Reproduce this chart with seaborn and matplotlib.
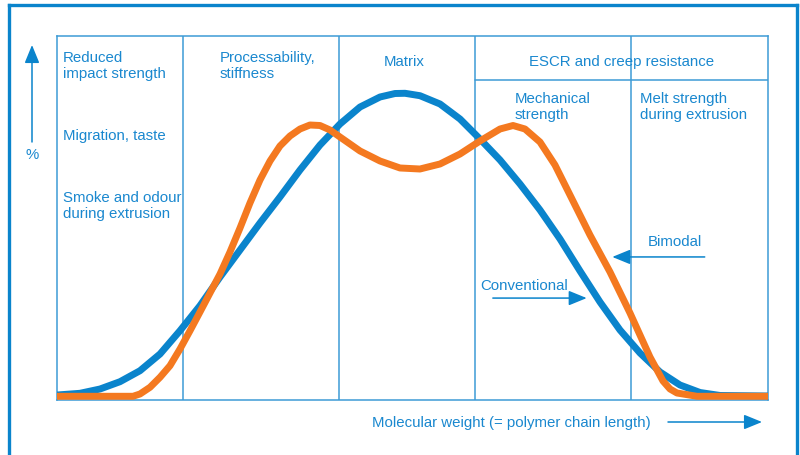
import pandas as pd
import seaborn as sns
import matplotlib.pyplot as plt
from matplotlib.lines import Line2D

# molecular weight axis runs 0..100 (arbitrary), amount in % of plot height
conv_x = [0, 3.23, 6.05, 8.86, 11.67, 14.49, 17.30, 20.11, 22.93, 25.74, 28.55, 31.36,
          34.18, 36.99, 39.80, 42.62, 45.43, 47.54, 48.95, 51.05, 53.87, 56.68, 59.49,
          62.31, 65.12, 67.93, 70.75, 73.56, 76.37, 79.18, 82.00, 84.81, 87.62, 90.44,
          93.25, 100]
conv_y = [1.37, 1.84, 3.02, 5.03, 8.04, 12.64, 19.04, 25.91, 33.79, 41.21, 48.63, 55.77,
          63.19, 70.05, 75.82, 80.49, 83.24, 84.20, 84.26, 83.60, 81.32, 77.20, 71.70,
          65.93, 59.34, 52.20, 44.23, 35.44, 26.92, 19.23, 12.91, 7.69, 4.12, 2.06,
          1.24, 1.10]
bimo_x = [0, 10.69, 11.67, 13.08, 14.49, 15.89, 17.30, 18.71, 20.11, 21.52, 22.93, 24.33,
          25.74, 27.14, 28.55, 29.96, 31.36, 32.77, 34.18, 35.58, 36.99, 38.40, 39.80,
          42.62, 45.43, 48.24, 51.05, 53.87, 56.68, 59.49, 62.31, 64.14, 65.82, 67.93,
          70.04, 72.15, 74.96, 77.78, 80.59, 83.40, 85.23, 86.22, 87.20, 90.01, 100]
bimo_y = [1.02, 1.02, 1.65, 3.49, 6.24, 9.42, 14.01, 19.04, 24.18, 29.40, 34.62, 40.66,
          47.25, 54.12, 60.44, 65.66, 69.78, 72.53, 74.45, 75.55, 75.41, 74.18, 72.25,
          68.41, 65.66, 63.74, 63.46, 64.84, 67.58, 71.15, 74.45, 75.41, 74.45, 70.88,
          64.56, 56.32, 45.33, 35.16, 23.90, 11.81, 5.22, 3.02, 1.92, 1.02, 1.02]

# region borders (x) and the split under "ESCR and creep resistance" (y)
zone_x = [17.7, 39.7, 58.8, 80.7]
escr_split_y = 87.9

BLUE = '#0a84cc'
ORANGE = '#f47920'
FRAME = '#3d9bd6'
TEXT = '#1a88cf'

df = pd.concat([
    pd.DataFrame({'mw': conv_x, 'pct': conv_y, 'type': 'Conventional'}),
    pd.DataFrame({'mw': bimo_x, 'pct': bimo_y, 'type': 'Bimodal'}),
])

sns.set_style('white')
plt.rcParams['font.family'] = ['Liberation Sans', 'DejaVu Sans']

fig = plt.figure(figsize=(8, 4.56), dpi=100)
ax = fig.add_axes([57 / 800, 1 - 401 / 456, 711 / 800, 364 / 456])

sns.lineplot(data=df, x='mw', y='pct', hue='type', sort=False, ax=ax,
             palette={'Conventional': BLUE, 'Bimodal': ORANGE},
             hue_order=['Conventional', 'Bimodal'], linewidth=5,
             legend=False, zorder=3)
for line in ax.lines:
    line.set_solid_joinstyle('round')
    line.set_solid_capstyle('butt')

ax.set_xlim(0, 100)
ax.set_ylim(0, 100)
ax.set_xticks([])
ax.set_yticks([])
ax.set_xlabel('')
ax.set_ylabel('')
for sp in ax.spines.values():
    sp.set_color(FRAME)
    sp.set_linewidth(1.1)

for xv in zone_x:
    ax.axvline(xv, color=FRAME, lw=1.1, zorder=1)
ax.plot([zone_x[2], 100], [escr_split_y, escr_split_y], color=FRAME, lw=1.1, zorder=1)

fs = 10.8
kw = dict(color=TEXT, fontsize=fs, linespacing=1.18)
ax.text(0.8, 96.1, 'Reduced\nimpact strength', va='top', **kw)
ax.text(0.8, 72.8, 'Migration, taste', va='center', **kw)
ax.text(0.8, 57.6, 'Smoke and odour\nduring extrusion', va='top', **kw)
ax.text(22.9, 96.1, 'Processability,\nstiffness', va='top', **kw)
ax.text(48.9, 93.2, 'Matrix', ha='center', va='center', **kw)
ax.text(79.4, 93.2, 'ESCR and creep resistance', ha='center', va='center', **kw)
ax.text(64.4, 84.8, 'Mechanical\nstrength', va='top', **kw)
ax.text(82.0, 84.8, 'Melt strength\nduring extrusion', va='top', **kw)
ax.text(83.1, 43.8, 'Bimodal', va='center', **kw)
ax.text(59.5, 31.5, 'Conventional', va='center', **kw)

arrow = dict(arrowstyle='-|>,head_length=1.1,head_width=0.45', color=BLUE,
             lw=1.1, shrinkA=0, shrinkB=0, mutation_scale=10)
ax.annotate('', xy=(78.1, 39.3), xytext=(91.1, 39.3), arrowprops=arrow)
ax.annotate('', xy=(74.5, 28.0), xytext=(61.3, 28.0), arrowprops=arrow)

# axis hints outside the plot box
fig.text(32 / 800, 1 - 155 / 456, '%', ha='center', va='center', **kw)
ax.annotate('', xy=(32 / 800, 1 - 46 / 456), xytext=(32 / 800, 1 - 143 / 456),
            xycoords='figure fraction', textcoords='figure fraction', arrowprops=arrow)
fig.text(372 / 800, 1 - 423 / 456, 'Molecular weight (= polymer chain length)',
         ha='left', va='center', **kw)
ax.annotate('', xy=(762 / 800, 1 - 423 / 456), xytext=(668 / 800, 1 - 423 / 456),
            xycoords='figure fraction', textcoords='figure fraction', arrowprops=arrow)

# outer frame: left, top and right edges only
for xs, ys in [([9, 9], [456, 6]), ([9, 797], [6, 6]), ([797, 797], [6, 456])]:
    fig.add_artist(Line2D([x / 800 for x in xs], [1 - y / 456 for y in ys],
                          color=BLUE, lw=2.4, solid_capstyle='projecting'))

fig.savefig('out.png', dpi=100)
